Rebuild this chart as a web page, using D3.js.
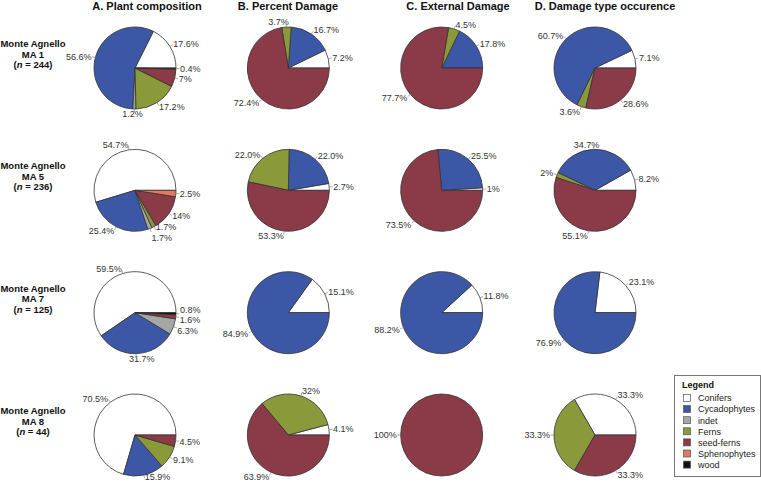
<!DOCTYPE html>
<html><head><meta charset="utf-8">
<script src="https://cdn.jsdelivr.net/npm/d3@7"></script>
<style>body{margin:0;background:#fff}svg{display:block;font-family:"Liberation Sans",Arial,sans-serif}</style>
</head><body>
<svg id="chart" width="761" height="483"></svg>
<script>
// ---- data ----
const categories = ["Conifers","Cycadophytes","indet","Ferns","seed-ferns","Sphenophytes","wood"];
const categoryColors = ["#ffffff","#3d57a7","#a6a6a6","#8a9a3a","#8b3a48","#e27a5e","#111111"];
const sites = ["MA 1","MA 5","MA 7","MA 8"];
const siteN = [244, 236, 125, 44];
const panelTitles = ["A. Plant composition","B. Percent Damage","C. External Damage","D. Damage type occurence"];
// values in category order (Conifers, Cycadophytes, indet, Ferns, seed-ferns, Sphenophytes, wood), printed as in source
const plantComposition = [
  ["17.6","56.6","1.2","17.2","7","0","0.4"],
  ["54.7","25.4","1.7","1.7","14","2.5","0"],
  ["59.5","31.7","6.3","0","1.6","0","0.8"],
  ["70.5","15.9","0","9.1","4.5","0","0"]
];
const percentDamage = [
  ["7.2","16.7","0","3.7","72.4","0","0"],
  ["2.7","22.0","0","22.0","53.3","0","0"],
  ["15.1","84.9","0","0","0","0","0"],
  ["4.1","0","0","32","63.9","0","0"]
];
const externalDamage = [
  ["0","17.8","0","4.5","77.7","0","0"],
  ["1","25.5","0","0","73.5","0","0"],
  ["11.8","88.2","0","0","0","0","0"],
  ["0","0","0","0","100","0","0"]
];
const damageTypeOccurence = [
  ["7.1","60.7","0","3.6","28.6","0","0"],
  ["8.2","34.7","0","2","55.1","0","0"],
  ["23.1","76.9","0","0","0","0","0"],
  ["33.3","0","0","33.3","33.3","0","0"]
];
const panels = [plantComposition, percentDamage, externalDamage, damageTypeOccurence];

// ---- layout ----
const W = 761, H = 483;
const svg = d3.select("#chart");
const colX = d3.scalePoint().domain(d3.range(4)).range([135, 595]);
const rowY = d3.scalePoint().domain(d3.range(4)).range([68, 435]);
const titleX = [147, 288, 458, 605];
const R = 41;
const color = d3.scaleOrdinal().domain(categories).range(categoryColors);

panelTitles.forEach((t,i)=>{
  svg.append("text").attr("x", titleX[i]).attr("y", 10).attr("text-anchor","middle")
    .attr("font-size", 11).attr("font-weight","bold").attr("fill","#111").text(t);
});

sites.forEach((s,i)=>{
  const g = svg.append("text").attr("text-anchor","middle").attr("font-size",9.5)
    .attr("font-weight","bold").attr("fill","#111");
  const cy = rowY(i);
  g.append("tspan").attr("x",33).attr("y",cy-21).text("Monte Agnello");
  g.append("tspan").attr("x",33).attr("y",cy-10.5).text(s);
  const t3 = g.append("tspan").attr("x",33).attr("y",cy);
  t3.append("tspan").text("(");
  t3.append("tspan").attr("font-style","italic").text("n");
  t3.append("tspan").text(" = " + siteN[i] + ")");
});

const pie = d3.pie().sort(null).value(d=>+d.v).startAngle(Math.PI/2).endAngle(Math.PI/2 - 2*Math.PI);
const arc = d3.arc().innerRadius(0).outerRadius(R);

panels.forEach((panel, ci)=>{
  panel.forEach((vals, ri)=>{
    const cx = colX(ci), cy = rowY(ri);
    const g = svg.append("g").attr("transform", `translate(${cx},${cy})`);
    const data = vals.map((v,k)=>({v, cat: categories[k]}));
    const arcs = pie(data).filter(d=>+d.data.v>0);
    g.selectAll("path").data(arcs).join("path")
      .attr("d", arc).attr("fill", d=>color(d.data.cat))
      .attr("stroke","#333").attr("stroke-width",0.8).attr("stroke-linejoin","round");
    // labels
    const labs = arcs.map(d=>{
      const a = (d.startAngle + d.endAngle)/2;
      const dx = Math.sin(a), dy = -Math.cos(a);
      return {d, dx, dy, text: d.data.v + "%"};
    });
    labs.forEach(l=>{
      l.node = g.append("text").attr("font-size",9).attr("fill","#333").text(l.text);
      l.w = l.node.node().getComputedTextLength();
      const px = (R+4)*l.dx, py = (R+4)*l.dy;
      const frac = Math.max(0, Math.min(1, 0.5 - l.dx*8));
      l.x = px - l.w*frac;
      l.yc = py + l.dy*1;
    });
    // simple vertical collision relaxation
    for(let it=0; it<40; it++){
      for(let i=0;i<labs.length;i++) for(let j=i+1;j<labs.length;j++){
        const A = labs[i], B = labs[j];
        const xo = Math.min(A.x+A.w, B.x+B.w) - Math.max(A.x, B.x);
        const dyy = B.yc - A.yc;
        if(xo > 0 && Math.abs(dyy) < 10.5){
          const push = (10.5 - Math.abs(dyy))/2;
          const s = dyy >= 0 ? 1 : -1;
          A.yc -= s*push; B.yc += s*push;
        }
      }
    }
    labs.forEach(l=>{
      // keep text inside the canvas
      l.yc = Math.min(l.yc, H - cy - 6);
      l.node.attr("x", l.x).attr("y", l.yc + 3.3);
      g.append("line")
        .attr("x1", R*l.dx).attr("y1", R*l.dy)
        .attr("x2", (R+3.5)*l.dx).attr("y2", (R+3.5)*l.dy)
        .attr("stroke","#888").attr("stroke-width",0.7);
    });
  });
});

// legend
const lg = svg.append("g").attr("transform","translate(674,375)");
lg.append("rect").attr("x",0.5).attr("y",0.5).attr("width",86).attr("height",101)
  .attr("fill","#fff").attr("stroke","#777").attr("stroke-width",1);
lg.append("text").attr("x",8).attr("y",13).attr("font-size",9).attr("font-weight","bold").attr("fill","#111").text("Legend");
categories.forEach((c,i)=>{
  const y = 23 + i*11.1;
  lg.append("rect").attr("x",9.5).attr("y",y-3.5).attr("width",7).attr("height",7)
    .attr("fill",color(c)).attr("stroke","#555").attr("stroke-width",0.7);
  lg.append("text").attr("x",24).attr("y",y+3.3).attr("font-size",9).attr("fill","#222").text(c);
});
</script>
</body></html>
